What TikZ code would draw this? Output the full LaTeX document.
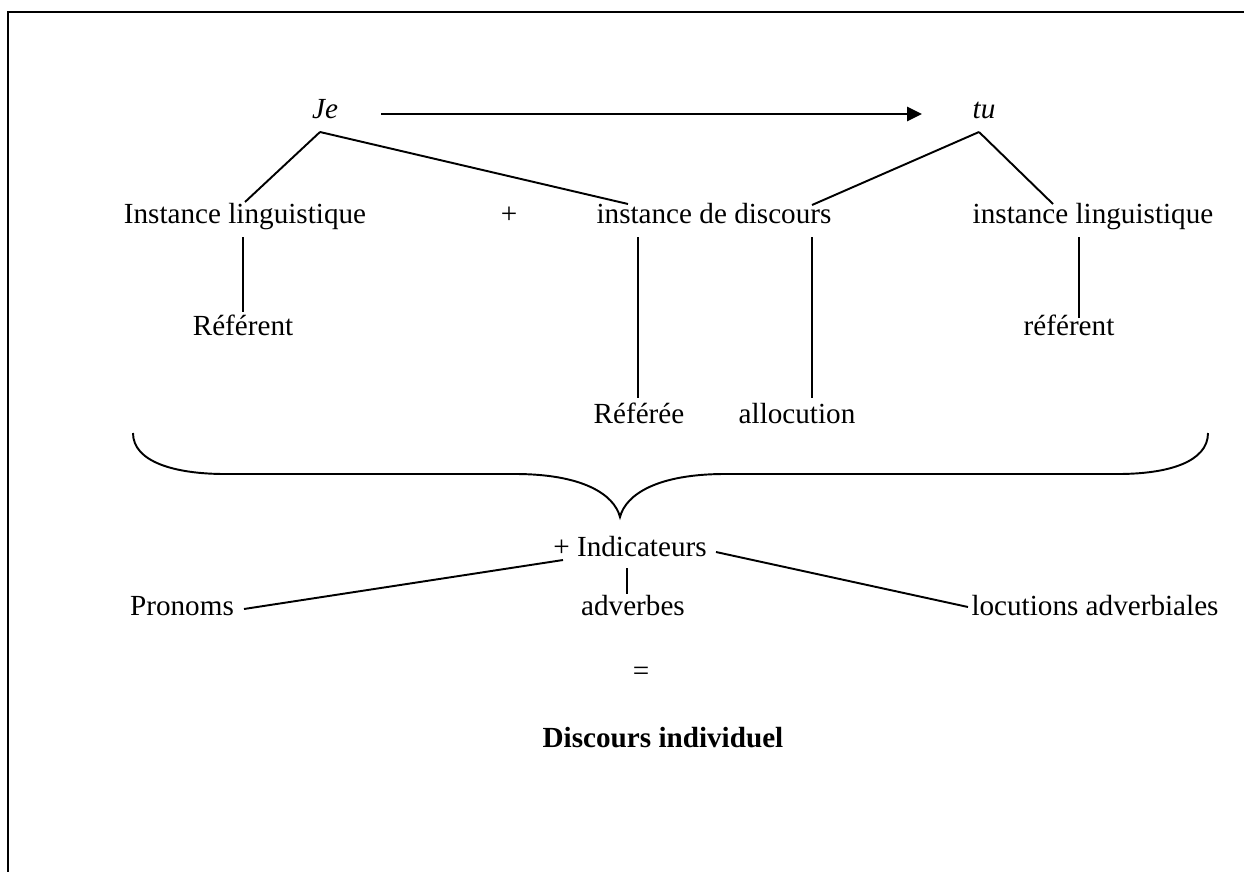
\documentclass[tikz,border=0pt]{standalone}
\usepackage{fontspec}
\setmainfont{Liberation Serif}
\usetikzlibrary{calc,arrows.meta}

\tikzset{
  lbl/.style={inner sep=0pt, anchor=base, font=\fontsize{16.6}{20}\selectfont},
  link/.style={line width=1.1pt},
  frame/.style={line width=1.7pt, line join=miter},
  arrowlink/.style={line width=1.5pt, -{Triangle[length=8.5pt,width=8pt]}},
}

\begin{document}
\begin{tikzpicture}[x=0.02cm, y=-0.02cm]
  \useasboundingbox (0,0) rectangle (1244,872);
  % open frame (top and left sides)
  \draw[frame] (8,872) -- (8,12) -- (1244,12);

  % pronouns
  \node[lbl] (je) at (325,118) {\textit{Je}};
  \node[lbl] (tu) at (984,118) {\textit{tu}};

  % instances
  \node[lbl] (il1)   at (245,223)  {Instance linguistique};
  \node[lbl] (plus1) at (509,223)  {+};
  \node[lbl] (idisc) at (714,223)  {instance de discours};
  \node[lbl] (il2)   at (1093,223) {instance linguistique};

  % lower terms
  \node[lbl] (ref1)  at (243,335)  {Référent};
  \node[lbl] (ref2)  at (639,423)  {Référée};
  \node[lbl] (alloc) at (797,423)  {allocution};
  \node[lbl] (ref3)  at (1069,335) {référent};

  % indicators
  \node[lbl] (ind)  at (630,556)  {+ Indicateurs};
  \node[lbl] (pron) at (182,615)  {Pronoms};
  \node[lbl] (adv)  at (633,615)  {adverbes};
  \node[lbl] (loc)  at (1095,615) {locutions adverbiales};

  \node[lbl] (eq)   at (641,680) {=};
  \node[lbl] (disc) at (663,747) {\textbf{Discours individuel}};

  % Je -> tu
  \draw[arrowlink] ($(je.base)+(56,-4)$) -- ($(tu.base)+(-62,-4)$);

  % branches from Je
  \coordinate (jeApex) at ($(je.base)+(-5,14)$);
  \draw[link] (jeApex) -- ($(il1.base)+(0,-21)$);
  \draw[link] (jeApex) -- ($(idisc.base)+(-86,-19)$);

  % branches from tu
  \coordinate (tuApex) at ($(tu.base)+(-5,14)$);
  \draw[link] (tuApex) -- ($(idisc.base)+(98,-18)$);
  \draw[link] (tuApex) -- ($(il2.base)+(-40,-19)$);

  % vertical links
  \draw[link] ($(il1.base)+(-2,14)$)   -- ($(ref1.base)+(0,-23)$);
  \draw[link] ($(idisc.base)+(-76,14)$) -- ($(ref2.base)+(-1,-25)$);
  \draw[link] ($(idisc.base)+(98,14)$)  -- ($(alloc.base)+(15,-25)$);
  \draw[link] ($(il2.base)+(-14,14)$)  -- ($(ref3.base)+(10,-17)$);

  % brace gathering everything above
  \draw[link] (133,433) .. controls (133,462) and (175,474) .. (225,474)
    -- (515,474) .. controls (582,474) and (614,494) .. (620,517)
    .. controls (626,494) and (658,474) .. (725,474)
    -- (1118,474) .. controls (1168,474) and (1208,462) .. (1208,433);

  % indicator links
  \draw[link] ($(ind.base)+(-67,4)$) -- ($(pron.base)+(62,-6)$);
  \draw[link] ($(ind.base)+(-3,12)$) -- ($(adv.base)+(-6,-21)$);
  \draw[link] ($(ind.base)+(86,-4)$) -- ($(loc.base)+(-127,-8)$);
\end{tikzpicture}
\end{document}
